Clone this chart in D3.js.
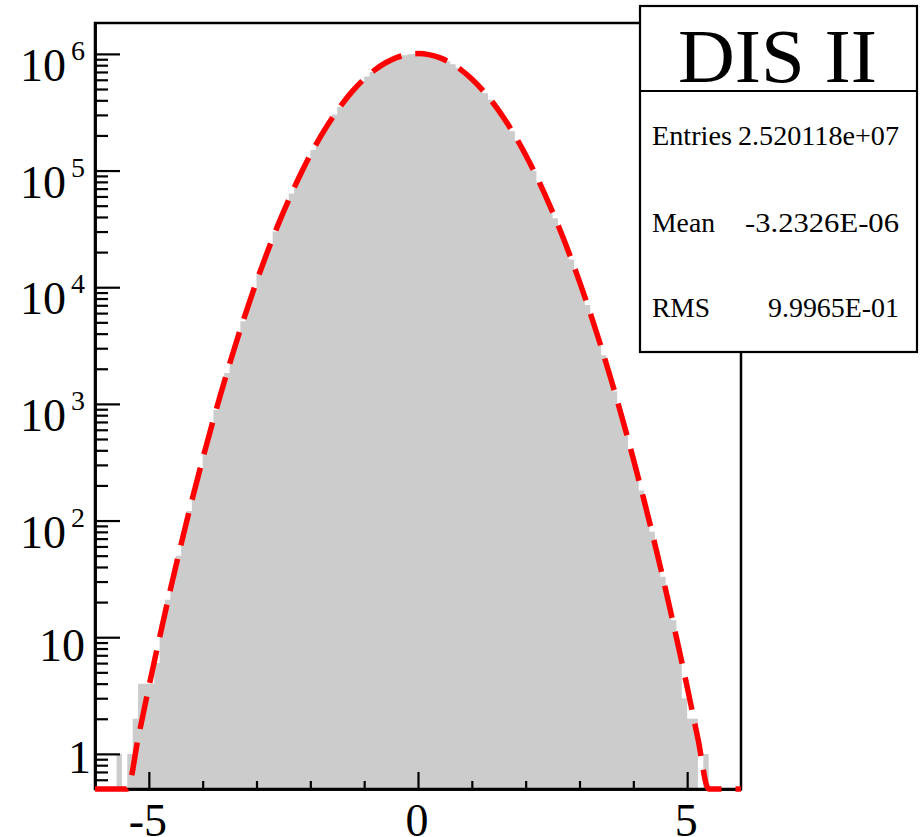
<!DOCTYPE html>
<html><head><meta charset="utf-8">
<script src="https://cdn.jsdelivr.net/npm/d3@7"></script>
<style>
html,body{margin:0;padding:0;background:#fff;}
svg{display:block;}
text{font-family:"Liberation Serif","Times New Roman",serif;fill:#000;}
</style></head><body>
<svg id="c" width="922" height="837"></svg>
<script>
// ---------------- data ----------------
const histTitle = "DIS II";
const histRange = [-6, 6];            // 120 bins of width 0.1
const binCounts = [
  0, 0, 0, 0, 1, 0, 1, 2, 4, 4,
  4, 6, 13, 21, 31, 50, 77, 121, 184, 275,
  410, 607, 887, 1289, 1841, 2620, 3670, 5118, 7035, 9610,
  12952, 17330, 22905, 30030, 38920, 50010, 63540, 80010, 99650, 122990,
  150170, 181630, 217410, 257740, 302440, 351410, 404160, 460320, 518970, 579360,
  640250, 700600, 758880, 813950, 864240, 908590, 945630, 974470, 994110, 1004150,
  1004120, 994150, 974430, 945670, 908550, 864280, 813910, 758920, 700560, 640290,
  579320, 519010, 460280, 404200, 351370, 302480, 257700, 217450, 181590, 150210,
  122960, 99690, 79970, 63580, 49980, 38950, 30010, 22930, 17310, 12970,
  9595, 7048, 5105, 3682, 2612, 1848, 1281, 892, 611, 408,
  278, 181, 118, 80, 49, 33, 21, 14, 8, 3,
  2, 2, 0, 1, 0, 0, 0, 0, 0, 0
];
const fitX = [
  -6.0, -5.8, -5.6, -5.4, -5.2, -5.0, -4.8, -4.6, -4.4, -4.2,
  -4.0, -3.8, -3.6, -3.4, -3.2, -3.0, -2.8, -2.6, -2.4, -2.2,
  -2.0, -1.8, -1.6, -1.4, -1.2, -1.0, -0.8, -0.6, -0.4, -0.2,
  0.0,
  0.2, 0.4, 0.6, 0.8, 1.0, 1.2, 1.4, 1.6, 1.8, 2.0,
  2.2, 2.4, 2.6, 2.8, 3.0, 3.2, 3.4, 3.6, 3.8, 4.0,
  4.2, 4.4, 4.6, 4.8, 5.0, 5.2, 5.4, 5.6, 5.8, 6.0
];
const fitY = [
  0.015, 0.05, 0.156, 0.47, 1.35, 3.75, 9.98, 25.6, 62.9, 148.5,
  337, 736, 1542, 3106, 6008, 11169, 19948, 34231, 56438, 89402,
  136070, 198970, 279540, 377340, 489380, 609810, 730070, 839780, 928100, 985490,
  1005400,
  985490, 928100, 839780, 730070, 609810, 489380, 377340, 279540, 198970, 136070,
  89402, 56438, 34231, 19948, 11169, 6008, 3106, 1542, 736, 337,
  148.5, 62.9, 25.6, 9.98, 3.75, 1.35, 0.47, 0.156, 0.05, 0.015
];
const xMajorTicks = [-5, 0, 5];
const xMinorTicks = [-4, -3, -2, -1, 1, 2, 3, 4];
const xTickLabels = ["-5", "0", "5"];
const yDomain = [0.5, 1.84e6];
const yMajorTicks = [1, 10, 100, 1000, 10000, 100000, 1000000];
const yTickBase = ["1", "10", "10", "10", "10", "10", "10"];
const yTickExp = ["", "", "2", "3", "4", "5", "6"];
const statLabels = ["Entries", "Mean", "RMS"];
const statValues = ["2.520118e+07", "-3.2326E-06", "9.9965E-01"];

// ---------------- layout ----------------
const L = 95, R = 741, T = 23, B = 789;
const svg = d3.select("#c");
const x = d3.scaleLinear().domain(histRange).range([L, R]);
const y = d3.scaleLog().domain(yDomain).range([B, T]);
const yc = v => y(Math.max(v, yDomain[0]));

// histogram (filled step area)
const bw = (histRange[1] - histRange[0]) / binCounts.length;
const pts = [];
binCounts.forEach((c, i) => {
  const x0 = histRange[0] + i * bw, x1 = x0 + bw;
  pts.push([x(x0), yc(c)], [x(x1), yc(c)]);
});
svg.append("path")
  .attr("d", d3.area().x(d => d[0]).y0(B).y1(d => d[1])(pts))
  .attr("fill", "#cccccc");

// frame
svg.append("rect").attr("x", L).attr("y", T).attr("width", R - L).attr("height", B - T)
  .attr("fill", "none").attr("stroke", "#000").attr("stroke-width", 2.5);

// y axis
const yMinor = y.ticks().filter(v => yMajorTicks.indexOf(v) < 0);
const gy = svg.append("g").attr("transform", `translate(${L},0)`);
gy.call(d3.axisLeft(y).tickValues(yMinor).tickSize(-13).tickSizeOuter(0).tickFormat(""));
const gy2 = svg.append("g").attr("transform", `translate(${L},0)`);
gy2.call(d3.axisLeft(y).tickValues(yMajorTicks).tickSize(-25).tickSizeOuter(0).tickFormat(""));
[gy, gy2].forEach(g => {
  g.selectAll("path.domain").attr("stroke-width", 2.5);
  g.selectAll(".tick line").attr("stroke-width", 2.2);
});

// y labels
yMajorTicks.forEach((v, i) => {
  const ty = y(v);
  if (yTickExp[i] === "") {
    const isOne = yTickBase[i] === "1";
    svg.append("text").attr("x", isOne ? 91 : 85).attr("y", ty + (isOne ? 19 : 24))
      .attr("text-anchor", "end").attr("font-size", 46).text(yTickBase[i]);
  } else {
    svg.append("text").attr("x", 85).attr("y", ty + 6)
      .attr("text-anchor", "end").attr("font-size", 28).text(yTickExp[i]);
    svg.append("text").attr("x", 66).attr("y", ty + 27)
      .attr("text-anchor", "end").attr("font-size", 46).text(yTickBase[i]);
  }
});

// x axis
const gx = svg.append("g").attr("transform", `translate(0,${B})`);
gx.call(d3.axisBottom(x).tickValues(xMinorTicks).tickSize(-8).tickSizeOuter(0).tickFormat(""));
const gx2 = svg.append("g").attr("transform", `translate(0,${B})`);
gx2.call(d3.axisBottom(x).tickValues(xMajorTicks).tickSize(-17).tickSizeOuter(0).tickFormat(""));
[gx, gx2].forEach(g => {
  g.selectAll("path.domain").attr("stroke-width", 2.5);
  g.selectAll(".tick line").attr("stroke-width", 2.2);
});
xMajorTicks.forEach((v, i) => {
  svg.append("text").attr("x", x(v) - 1).attr("y", 836)
    .attr("text-anchor", "middle").attr("font-size", 46).text(xTickLabels[i]);
});

// fit function
svg.append("path")
  .attr("d", d3.line().x((d, i) => x(fitX[i])).y((d, i) => yc(fitY[i])).curve(d3.curveMonotoneX)(fitY))
  .attr("fill", "none").attr("stroke", "#ff0000").attr("stroke-width", 5.5)
  .attr("stroke-dasharray", "33,14");

// stats box
const SB = {x0: 640, y0: 6, x1: 917, y1: 352, div: 91};
svg.append("rect").attr("x", SB.x0).attr("y", SB.y0).attr("width", SB.x1 - SB.x0).attr("height", SB.y1 - SB.y0)
  .attr("fill", "#fff").attr("stroke", "#000").attr("stroke-width", 2.2);
svg.append("line").attr("x1", SB.x0).attr("x2", SB.x1).attr("y1", SB.div).attr("y2", SB.div)
  .attr("stroke", "#000").attr("stroke-width", 2.2);
svg.append("text").attr("x", 678).attr("y", 82)
  .attr("font-size", 77).attr("textLength", 199).attr("lengthAdjust", "spacingAndGlyphs").text(histTitle);
const statBase = [145, 232, 317];
const labelW = [80, 63, 58];
const valueW = [161, 154, 131];
statLabels.forEach((s, i) => {
  svg.append("text").attr("x", 652).attr("y", statBase[i]).attr("font-size", 28)
    .attr("textLength", labelW[i]).attr("lengthAdjust", "spacingAndGlyphs").text(s);
  svg.append("text").attr("x", 899 - valueW[i]).attr("y", statBase[i])
    .attr("font-size", 28).attr("textLength", valueW[i]).attr("lengthAdjust", "spacingAndGlyphs")
    .text(statValues[i]);
});
</script>
</body></html>
